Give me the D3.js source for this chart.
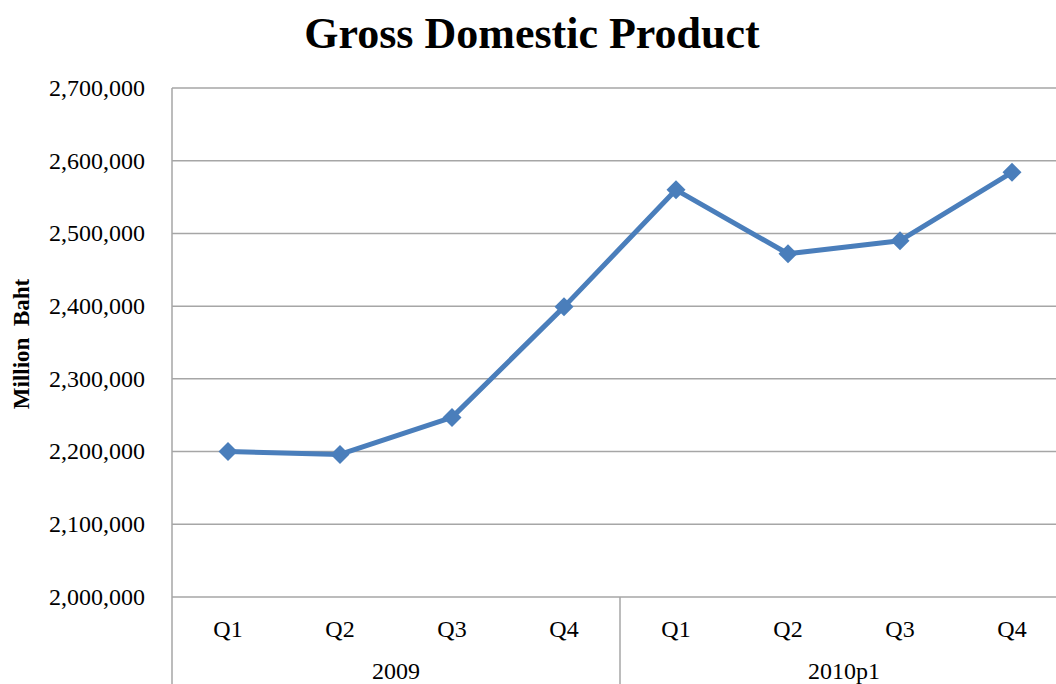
<!DOCTYPE html>
<html>
<head>
<meta charset="utf-8">
<script src="https://cdn.jsdelivr.net/npm/d3@7/dist/d3.min.js"></script>
<style>
  html, body { margin: 0; padding: 0; background: #fff; }
  svg { display: block; }
  text { font-family: "Liberation Serif", "Times New Roman", serif; fill: #000; }
</style>
</head>
<body>
<svg id="chart" width="1056" height="684"></svg>
<script>
// Quarterly GDP, million baht
const quarters = ["Q1", "Q2", "Q3", "Q4", "Q1", "Q2", "Q3", "Q4"];
const years = ["2009", "2010p1"];
const gdp = [2200000, 2196000, 2247000, 2399000, 2560000, 2472000, 2490000, 2584000];
const yTicks = [2000000, 2100000, 2200000, 2300000, 2400000, 2500000, 2600000, 2700000];

const W = 1056, H = 684;
const margin = { left: 172, top: 88, bottom: 597 };
const plotRight = 1068;

const svg = d3.select("#chart");

const x = d3.scaleBand()
  .domain(d3.range(quarters.length))
  .range([margin.left, plotRight])
  .paddingInner(0).paddingOuter(0);

const y = d3.scaleLinear()
  .domain([2000000, 2700000])
  .range([margin.bottom, margin.top]);

const fmt = d3.format(",");
const gridColor = "#a6a6a6";

// horizontal gridlines
svg.append("g")
  .selectAll("line")
  .data(yTicks)
  .join("line")
  .attr("x1", margin.left).attr("x2", plotRight)
  .attr("y1", d => y(d)).attr("y2", d => y(d))
  .attr("stroke", gridColor).attr("stroke-width", 1.5);

// y axis line
svg.append("line")
  .attr("x1", margin.left).attr("x2", margin.left)
  .attr("y1", margin.top).attr("y2", H)
  .attr("stroke", gridColor).attr("stroke-width", 1.5);

// y tick labels
svg.append("g")
  .selectAll("text")
  .data(yTicks)
  .join("text")
  .attr("x", 145)
  .attr("y", d => y(d))
  .attr("dy", "0.33em")
  .attr("text-anchor", "end")
  .style("font-size", "24px")
  .text(d => fmt(d));

// quarter labels
svg.append("g")
  .selectAll("text")
  .data(quarters)
  .join("text")
  .attr("x", (d, i) => x(i) + x.bandwidth() / 2)
  .attr("y", 637)
  .attr("text-anchor", "middle")
  .style("font-size", "24px")
  .text(d => d);

// year group labels and separators
const perYear = quarters.length / years.length;
svg.append("g")
  .selectAll("text")
  .data(years)
  .join("text")
  .attr("x", (d, i) => x(i * perYear) + x.bandwidth() * perYear / 2)
  .attr("y", 679)
  .attr("text-anchor", "middle")
  .style("font-size", "24px")
  .text(d => d);

svg.append("g")
  .selectAll("line")
  .data(d3.range(1, years.length))
  .join("line")
  .attr("x1", i => x(i * perYear)).attr("x2", i => x(i * perYear))
  .attr("y1", margin.bottom).attr("y2", H)
  .attr("stroke", gridColor).attr("stroke-width", 1.5);

// series line
const blue = "#4a7ebb";
const line = d3.line()
  .x((d, i) => x(i) + x.bandwidth() / 2)
  .y(d => y(d));

svg.append("path")
  .datum(gdp)
  .attr("d", line)
  .attr("fill", "none")
  .attr("stroke", blue)
  .attr("stroke-width", 5)
  .attr("stroke-linejoin", "round");

// diamond markers
const diamond = d3.symbol().type(d3.symbolDiamond2).size(230);
svg.append("g")
  .selectAll("path")
  .data(gdp)
  .join("path")
  .attr("d", diamond)
  .attr("transform", (d, i) => `translate(${x(i) + x.bandwidth() / 2},${y(d)})`)
  .attr("fill", blue);

// title
svg.append("text")
  .attr("x", 532)
  .attr("y", 48)
  .attr("text-anchor", "middle")
  .style("font-size", "44px")
  .style("font-weight", "bold")
  .text("Gross Domestic Product");

// y axis title
svg.append("text")
  .attr("transform", "translate(29,344) rotate(-90)")
  .attr("text-anchor", "middle")
  .style("font-size", "23px")
  .style("font-weight", "bold")
  .style("white-space", "pre")
  .text("Million  Baht");
</script>
</body>
</html>
